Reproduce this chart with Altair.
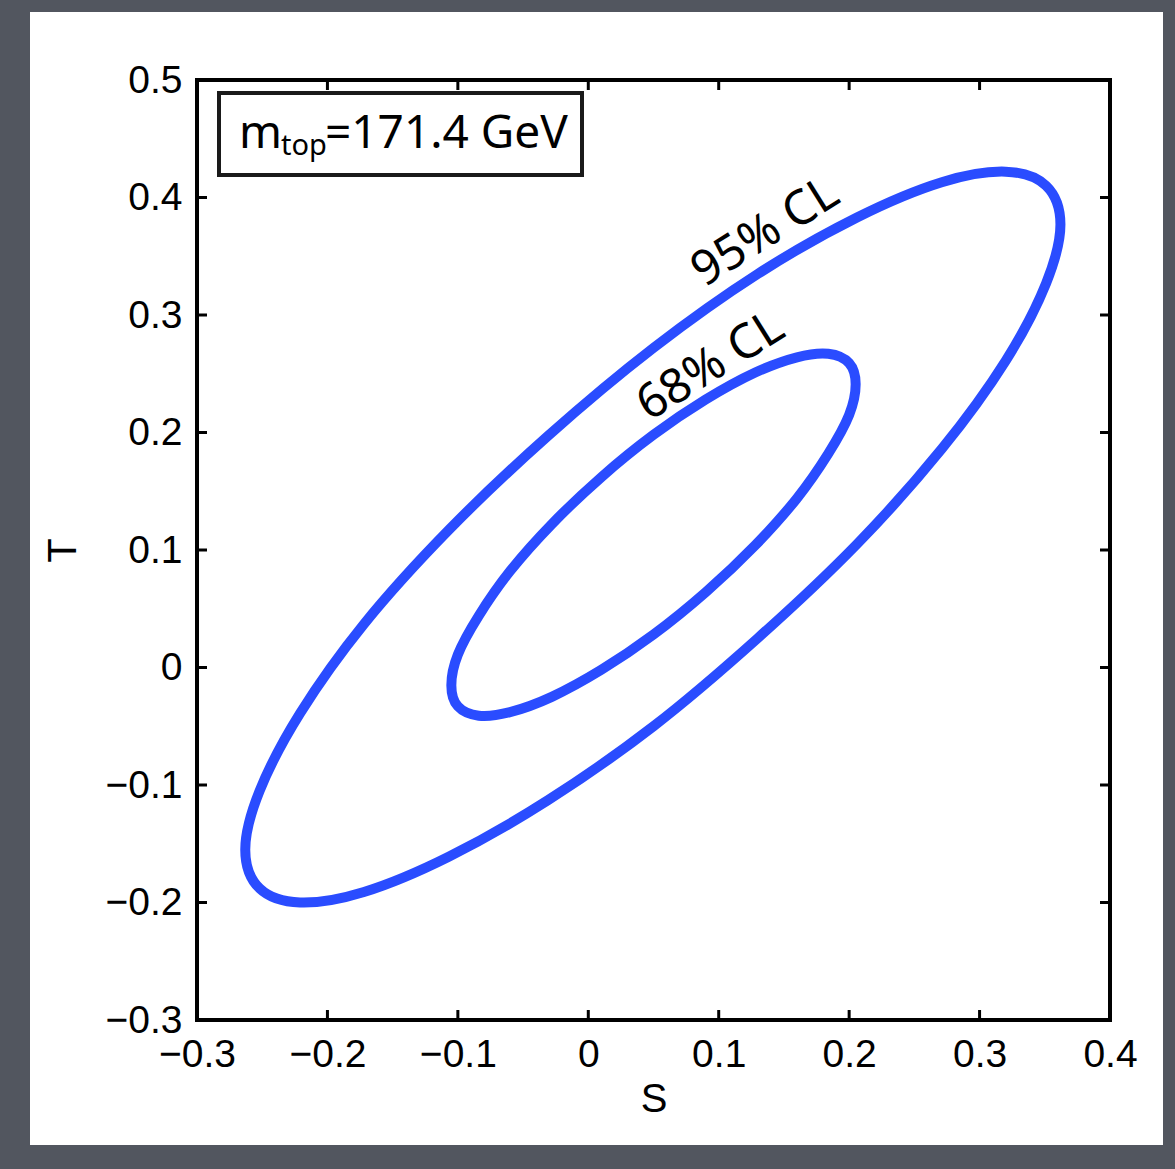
import altair as alt
import pandas as pd

# ---- data (contour points, counter-clockwise from the right end) ----
S_95 = [0.362, 0.351, 0.320, 0.271, 0.206, 0.130, 0.050, -0.031, -0.107, -0.172,
        -0.221, -0.252, -0.263, -0.252, -0.221, -0.172, -0.107, -0.031, 0.050, 0.130,
        0.206, 0.271, 0.320, 0.351]
T_95 = [0.377, 0.410, 0.422, 0.413, 0.383, 0.335, 0.272, 0.197, 0.117, 0.037,
        -0.039, -0.105, -0.155, -0.188, -0.200, -0.191, -0.161, -0.113, -0.050, 0.025,
        0.105, 0.186, 0.261, 0.327]

S_68 = [0.205, 0.200, 0.184, 0.160, 0.128, 0.090, 0.050, 0.010, -0.028, -0.060,
        -0.084, -0.100, -0.105, -0.100, -0.084, -0.060, -0.028, 0.010, 0.050, 0.090,
        0.128, 0.160, 0.184, 0.200]
T_68 = [0.241, 0.259, 0.267, 0.264, 0.251, 0.228, 0.198, 0.162, 0.122, 0.082,
        0.044, 0.011, -0.015, -0.033, -0.041, -0.038, -0.025, -0.002, 0.028, 0.064,
        0.104, 0.144, 0.182, 0.215]

x_ticks = [-0.3, -0.2, -0.1, 0.0, 0.1, 0.2, 0.3, 0.4]
y_ticks = [-0.3, -0.2, -0.1, 0.0, 0.1, 0.2, 0.3, 0.4, 0.5]

cl_text = ["95% CL", "68% CL"]
cl_S = [0.136, 0.094]
cl_T = [0.370, 0.256]

box_main = "m"
box_sub = "top"
box_rest = "=171.4 GeV"

W, H = 913, 940
BLUE = "#2a4cff"
LABEL_FONT = "Liberation Sans"
NOTE_FONT = "Noto Sans"

# ---- tables ----
rows = []
for lvl, Ss, Ts in (("95", S_95, T_95), ("68", S_68, T_68)):
    for i, (s, t) in enumerate(zip(Ss, Ts)):
        rows.append({"S": s, "T": t, "level": lvl, "idx": i})
contours = pd.DataFrame(rows)
xt = pd.DataFrame({"S": x_ticks})
yt = pd.DataFrame({"T": y_ticks})
cl = pd.DataFrame({"label": cl_text, "S": cl_S, "T": cl_T})
one = pd.DataFrame({"k": [0]})

x_axis = alt.Axis(values=x_ticks, format="~f", grid=False, domain=False, ticks=False,
                  tickSize=0, labelPadding=15, labelFlush=False, labelOverlap=False,
                  labelFont=LABEL_FONT, labelFontSize=39, labelColor="black",
                  title="S", titleFont=LABEL_FONT, titleFontSize=40,
                  titleFontWeight="normal", titleColor="black", titlePadding=5,
                  zindex=1)
y_axis = alt.Axis(values=y_ticks, format="~f", grid=False, domain=False, ticks=False,
                  tickSize=0, labelPadding=15, labelFlush=False, labelOverlap=False,
                  labelFont=LABEL_FONT, labelFontSize=39, labelColor="black",
                  title="T", titleFont=LABEL_FONT, titleFontSize=40,
                  titleFontWeight="normal", titleColor="black", titlePadding=22,
                  zindex=1)
xs = alt.Scale(domain=[-0.3, 0.4], nice=False, zero=False)
ys = alt.Scale(domain=[-0.3, 0.5], nice=False, zero=False)
X = alt.X("S:Q", scale=xs, axis=x_axis)
Y = alt.Y("T:Q", scale=ys, axis=y_axis)

paper = alt.Chart(one).mark_rect(color="white").encode(
    x=alt.value(-167), x2=alt.value(966), y=alt.value(-68), y2=alt.value(1065))

lines = alt.Chart(contours).mark_line(
    interpolate="cardinal-closed", strokeWidth=10, color=BLUE
).encode(x=X, y=Y, detail="level:N", order="idx:Q")

tick_b = alt.Chart(xt).mark_rule(color="black", strokeWidth=3).encode(
    x=X, y=alt.value(H), y2=alt.value(H - 10))
tick_t = alt.Chart(xt).mark_rule(color="black", strokeWidth=3).encode(
    x=X, y=alt.value(0), y2=alt.value(10))
tick_l = alt.Chart(yt).mark_rule(color="black", strokeWidth=3).encode(
    y=Y, x=alt.value(0), x2=alt.value(10))
tick_r = alt.Chart(yt).mark_rule(color="black", strokeWidth=3).encode(
    y=Y, x=alt.value(W), x2=alt.value(W - 10))

frame = alt.Chart(one).mark_rect(fillOpacity=0, stroke="black", strokeWidth=4).encode(
    x=alt.value(0), x2=alt.value(W), y=alt.value(0), y2=alt.value(H))

box = alt.Chart(one).mark_rect(fill="white", stroke="#1a1a1a", strokeWidth=4).encode(
    x=alt.value(22), x2=alt.value(385), y=alt.value(13), y2=alt.value(95))

t_main = alt.Chart(one).mark_text(text=box_main, font=NOTE_FONT, fontSize=46, align="left",
                                  baseline="alphabetic", color="black").encode(
    x=alt.value(42), y=alt.value(68))
t_sub = alt.Chart(one).mark_text(text=box_sub, font=NOTE_FONT, fontSize=29, align="left",
                                 baseline="alphabetic", color="black").encode(
    x=alt.value(84), y=alt.value(75))
t_rest = alt.Chart(one).mark_text(text=box_rest, font=NOTE_FONT, fontSize=46, align="left",
                                  baseline="alphabetic", color="black").encode(
    x=alt.value(128), y=alt.value(68))

cl_labels = alt.Chart(cl).mark_text(font=NOTE_FONT, fontSize=48, angle=328, align="center",
                                    baseline="middle", color="black").encode(
    x=X, y=Y, text="label:N")

chart = alt.layer(paper, lines, tick_b, tick_t, tick_l, tick_r, frame, box,
                  t_main, t_sub, t_rest, cl_labels).properties(
    width=W, height=H, background="#52565f",
    padding={"left": 30, "top": 12, "right": 12, "bottom": 24}
).configure_view(strokeWidth=0)

chart.save("out.html", embed_options={"renderer": "svg", "actions": False})
